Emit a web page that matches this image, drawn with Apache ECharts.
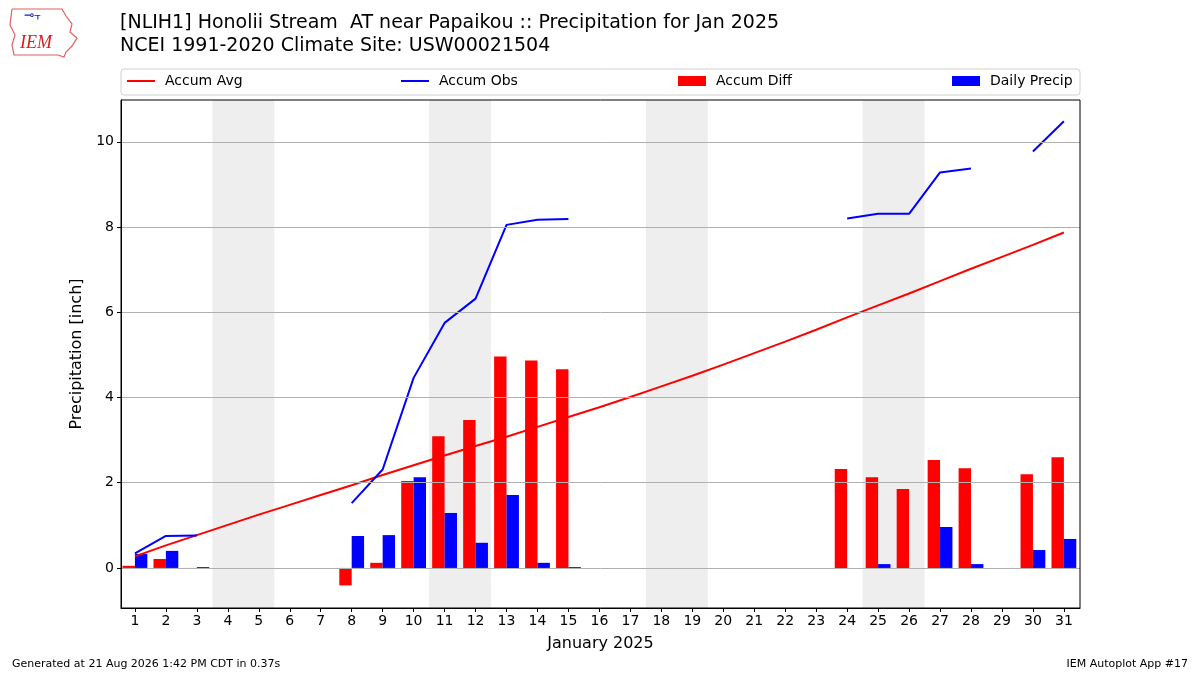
<!DOCTYPE html>
<html>
<head>
<meta charset="utf-8">
<script src="https://cdn.jsdelivr.net/npm/echarts@6/dist/echarts.min.js"></script>
<style>
html, body { margin: 0; padding: 0; background: #fff; }
#chart { width: 1200px; height: 675px; }
</style>
</head>
<body>
<div id="chart"></div>
<script>
// January 2025, day of month
var days = [1,2,3,4,5,6,7,8,9,10,11,12,13,14,15,16,17,18,19,20,21,22,23,24,25,26,27,28,29,30,31];
// climatology accumulated average [inch]
var accumAvg = [0.27,0.53,0.77,1.01,1.25,1.48,1.71,1.94,2.18,2.41,2.64,2.86,3.08,3.31,3.54,3.77,
    4.01,4.26,4.51,4.77,5.04,5.31,5.59,5.88,6.16,6.44,6.73,7.02,7.30,7.58,7.87];
// observed accumulation, null = missing
var accumObs = [0.34,0.75,0.76,null,null,null,null,1.52,2.31,4.46,5.75,6.32,8.05,8.17,8.19,null,
    null,null,null,null,null,null,null,8.20,8.31,8.31,9.28,9.37,null,9.77,10.48];
// obs - avg
var accumDiff = [0.05,0.21,-0.01,null,null,null,null,-0.41,0.12,2.04,3.09,3.47,4.96,4.87,4.66,null,
    null,null,null,null,null,null,null,2.32,2.13,1.85,2.53,2.34,null,2.20,2.60];
var dailyPrecip = [0.33,0.40,0.02,null,null,null,null,0.75,0.77,2.13,1.29,0.59,1.71,0.12,0.02,null,
    null,null,null,null,null,null,null,0,0.09,0,0.96,0.09,null,0.42,0.68];
// weekends shaded
var weekends = [[4,5],[11,12],[18,19],[25,26]];
var yTicks = [0,2,4,6,8,10];

var FONT = 'DejaVu Sans';

function pairs(arr, shift) {
    return days.map(function (d, i) { return [d + shift, arr[i]]; });
}

var chart = echarts.init(document.getElementById('chart'));

var option = {
    animation: false,
    backgroundColor: '#fff',
    textStyle: {fontFamily: FONT},
    title: {
        text: '[NLIH1] Honolii Stream  AT near Papaikou :: Precipitation for Jan 2025\nNCEI 1991-2020 Climate Site: USW00021504',
        left: 120,
        top: 12,
        padding: 0,
        textStyle: {fontFamily: FONT, fontSize: 19, fontWeight: 'normal', color: '#000', lineHeight: 23}
    },
    legend: [
        {data: ['Accum Avg'], left: 127, top: 74, icon: 'rect', itemWidth: 28, itemHeight: 2},
        {data: ['Accum Obs'], left: 401, top: 74, icon: 'rect', itemWidth: 28, itemHeight: 2},
        {data: ['Accum Diff'], left: 678, top: 74, icon: 'rect', itemWidth: 28, itemHeight: 10},
        {data: ['Daily Precip'], left: 952, top: 74, icon: 'rect', itemWidth: 28, itemHeight: 10}
    ].map(function (l) {
        l.padding = 0;
        l.itemGap = 0;
        l.textStyle = {fontFamily: FONT, fontSize: 14, color: '#000', padding: [0, 0, 0, 5]};
        return l;
    }),
    graphic: [
        {type: 'rect', shape: {x: 121, y: 69, width: 959, height: 26, r: 3},
            style: {fill: 'none', stroke: '#d0d0d0', lineWidth: 1}, z: -1},
        {type: 'polyline', shape: {points: [[12,9],[62,9],[66,16],[72,24],[70,32],[77,38],[72,46],[66,52],[64,57],[58,55],[14,55],[12,45],[15,35],[10,25],[12,9]]},
            style: {fill: 'none', stroke: '#e06060', lineWidth: 1.2}},
        {type: 'text', left: 20, top: 34,
            style: {text: 'IEM', fill: '#d42020', font: 'italic 18px "Liberation Serif"'}},
        {type: 'text', left: 24, top: 10,
            style: {text: '⊸⫟', fill: '#1020c0', font: '12px "DejaVu Sans"'}},
        {type: 'text', left: 12, top: 659,
            style: {text: 'Generated at 21 Aug 2026 1:42 PM CDT in 0.37s', fill: '#000', font: '11px "DejaVu Sans"'}},
        {type: 'text', right: 12, top: 659,
            style: {text: 'IEM Autoplot App #17', fill: '#000', font: '11px "DejaVu Sans"'}}
    ],
    grid: {
        left: 121, right: 120, top: 100, bottom: 67, z: 10,
        show: true, borderColor: '#000', borderWidth: 1, backgroundColor: 'transparent'
    },
    xAxis: {
        type: 'value',
        z: 10,
        min: 0.55,
        max: 31.52,
        name: 'January 2025',
        nameLocation: 'middle',
        nameGap: 28,
        nameTextStyle: {fontFamily: FONT, fontSize: 16, color: '#000'},
        splitLine: {show: false},
        axisLine: {show: true, onZero: false, lineStyle: {color: '#000'}},
        axisTick: {show: true, length: 4, lineStyle: {color: '#000'}, customValues: days},
        axisLabel: {fontFamily: FONT, fontSize: 14, color: '#000', margin: 6, customValues: days}
    },
    yAxis: {
        type: 'value',
        z: 10,
        min: -0.94,
        max: 10.98,
        name: 'Precipitation [inch]',
        nameLocation: 'middle',
        nameGap: 34,
        nameTextStyle: {fontFamily: FONT, fontSize: 16, color: '#000'},
        splitLine: {show: false},
        axisLine: {show: true, lineStyle: {color: '#000'}},
        axisTick: {show: true, length: 4, lineStyle: {color: '#000'}, customValues: yTicks},
        axisLabel: {fontFamily: FONT, fontSize: 14, color: '#000', margin: 7, customValues: yTicks}
    },
    series: [
        {
            // background: weekend bands + horizontal grid lines
            name: 'bg',
            type: 'line',
            data: [],
            z: 0,
            silent: true,
            markArea: {
                silent: true,
                itemStyle: {color: '#eeeeee'},
                data: weekends.map(function (w) {
                    return [{xAxis: w[0] - 0.5}, {xAxis: w[1] + 0.5}];
                })
            },
            markLine: {
                silent: true,
                symbol: 'none',
                label: {show: false},
                lineStyle: {color: '#b0b0b0', type: 'solid', width: 1},
                data: yTicks.map(function (v) { return {yAxis: v}; })
            }
        },
        {
            name: 'Accum Diff',
            type: 'bar',
            barWidth: 12.4,
            barGap: '-100%',
            itemStyle: {color: '#ff0000'},
            data: pairs(accumDiff, -0.2),
            z: 2
        },
        {
            name: 'Daily Precip',
            type: 'bar',
            barWidth: 12.4,
            barGap: '-100%',
            itemStyle: {color: '#0000ff'},
            data: pairs(dailyPrecip, 0.2),
            z: 2
        },
        {
            name: 'Accum Avg',
            type: 'line',
            showSymbol: false,
            symbol: 'none',
            lineStyle: {color: '#ff0000', width: 2},
            itemStyle: {color: '#ff0000'},
            data: pairs(accumAvg, 0),
            z: 3
        },
        {
            name: 'Accum Obs',
            type: 'line',
            showSymbol: false,
            symbol: 'none',
            connectNulls: false,
            lineStyle: {color: '#0000ff', width: 2},
            itemStyle: {color: '#0000ff'},
            data: pairs(accumObs, 0),
            z: 3
        }
    ]
};

chart.setOption(option);
</script>
</body>
</html>
